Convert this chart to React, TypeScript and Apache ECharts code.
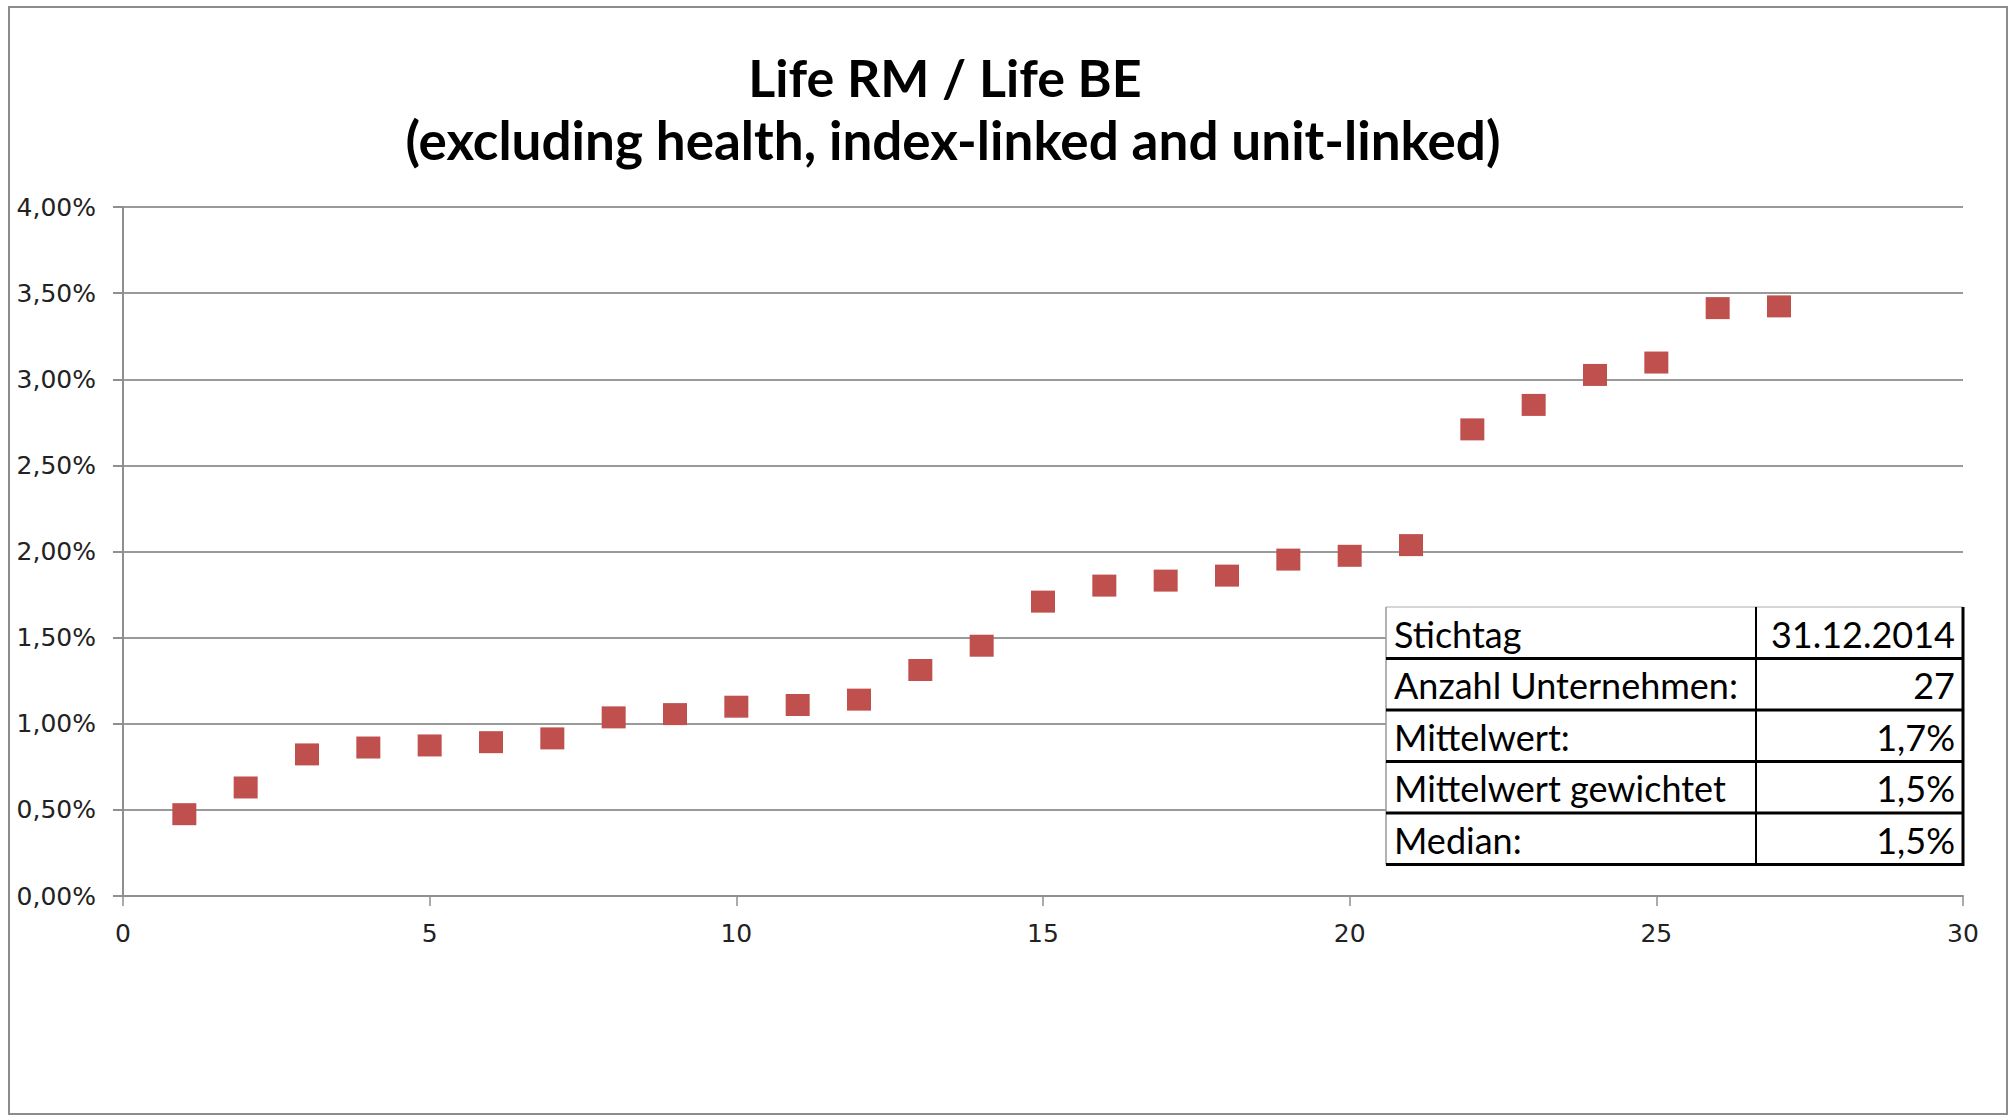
import React, { useEffect, useRef } from "react";
import * as echarts from "echarts";

// Company rank (x) and Life RM / Life BE ratio in percent (y)
const companies = [1, 2, 3, 4, 5, 6, 7, 8, 9, 10, 11, 12, 13, 14, 15, 16, 17, 18, 19, 20, 21, 22, 23, 24, 25, 26, 27];
const ratios = [
  0.475, 0.63, 0.822, 0.862, 0.874, 0.893, 0.915, 1.037, 1.056, 1.099, 1.109, 1.14, 1.312, 1.453,
  1.709, 1.802, 1.831, 1.86, 1.953, 1.975, 2.037, 2.709, 2.851, 3.025, 3.097, 3.413, 3.423,
];
const titleLines = ["Life RM / Life BE", "(excluding health, index-linked and unit-linked)"];
const tableLabels = ["Stichtag", "Anzahl Unternehmen:", "Mittelwert:", "Mittelwert gewichtet", "Median:"];
const tableValues = ["31.12.2014", "27", "1,7%", "1,5%", "1,5%"];
const xTicks = { min: 0, max: 30, interval: 5 };
const yTicks = { min: 0, max: 4, interval: 0.5 };

const W = 2009;
const H = 1116;

function buildTable() {
  const x0 = 1386;
  const y0 = 607;
  const w = 577;
  const rowH = 51.5;
  const colX = 1756;
  const n = tableLabels.length;
  const els: any[] = [];
  els.push({ type: "rect", shape: { x: x0, y: y0, width: w, height: rowH * n }, style: { fill: "#ffffff" }, z: 100 });
  els.push({ type: "line", shape: { x1: x0, y1: y0, x2: x0 + w, y2: y0 }, style: { stroke: "#c8c8c8", lineWidth: 1.5 }, z: 101 });
  els.push({ type: "line", shape: { x1: x0, y1: y0, x2: x0, y2: y0 + rowH * n }, style: { stroke: "#9a9a9a", lineWidth: 1.5 }, z: 101 });
  els.push({ type: "line", shape: { x1: x0 + w, y1: y0, x2: x0 + w, y2: y0 + rowH * n + 1.5 }, style: { stroke: "#000000", lineWidth: 3 }, z: 102 });
  els.push({ type: "line", shape: { x1: colX, y1: y0, x2: colX, y2: y0 + rowH * n }, style: { stroke: "#000000", lineWidth: 2 }, z: 102 });
  for (let i = 1; i <= n; i++) {
    els.push({
      type: "line",
      shape: { x1: x0, y1: y0 + rowH * i, x2: x0 + w, y2: y0 + rowH * i },
      style: { stroke: "#000000", lineWidth: 3 },
      z: 102,
    });
  }
  tableLabels.forEach((t, i) => {
    els.push({
      type: "text",
      x: x0 + 8,
      y: y0 + rowH * i + rowH / 2 + 1,
      style: { text: t, fill: "#000000", font: "36px Lato", align: "left", verticalAlign: "middle" },
      z: 103,
    });
    els.push({
      type: "text",
      x: x0 + w - 8,
      y: y0 + rowH * i + rowH / 2 + 1,
      style: { text: tableValues[i], fill: "#000000", font: "36px Lato", align: "right", verticalAlign: "middle" },
      z: 103,
    });
  });
  return els;
}

export default function App() {
  const ref = useRef<HTMLDivElement>(null);
  useEffect(() => {
    if (!ref.current) return;
    const chart = echarts.init(ref.current, null, { renderer: "svg", width: W, height: H });
    const fmt = (v: number) => v.toFixed(2).replace(".", ",") + "%";
    chart.setOption({
      animation: false,
      backgroundColor: "#ffffff",
      grid: { left: 123, right: W - 1963, top: 207, bottom: H - 896, containLabel: false, outerBoundsMode: "none" },
      xAxis: {
        type: "value",
        min: xTicks.min,
        max: xTicks.max,
        interval: xTicks.interval,
        axisLine: { show: true, onZero: false, lineStyle: { color: "#8f8f8f", width: 2 } },
        axisTick: { show: true, length: 10, lineStyle: { color: "#8f8f8f", width: 1.5 } },
        axisLabel: { color: "#222222", fontFamily: "DejaVu Sans", fontSize: 25, margin: 25 },
        splitLine: { show: false },
      },
      yAxis: {
        type: "value",
        min: yTicks.min,
        max: yTicks.max,
        interval: yTicks.interval,
        axisLine: { show: true, lineStyle: { color: "#8f8f8f", width: 2 } },
        axisTick: { show: true, length: 10, lineStyle: { color: "#8f8f8f", width: 2 } },
        axisLabel: { color: "#222222", fontFamily: "DejaVu Sans", fontSize: 25, margin: 27, formatter: fmt },
        splitLine: { show: true, lineStyle: { color: "#9a9a9a", width: 2 } },
      },
      series: [
        {
          type: "scatter",
          data: companies.map((c, i) => [c, ratios[i]]),
          symbol: "rect",
          symbolSize: [24, 22],
          itemStyle: { color: "#c0504d", opacity: 1 },
          z: 5,
        },
      ],
      graphic: [
        {
          type: "rect",
          shape: { x: 9, y: 7, width: 1998, height: 1107 },
          style: { fill: "none", stroke: "#8c8c8c", lineWidth: 2 },
          z: 0,
          silent: true,
        },
        {
          type: "text",
          x: 945,
          y: 77,
          style: { text: titleLines[0], fill: "#000000", font: "bold 52px Lato", align: "center", verticalAlign: "middle" },
          z: 50,
        },
        {
          type: "text",
          x: 953,
          y: 139,
          style: { text: titleLines[1], fill: "#000000", font: "bold 53px Lato", align: "center", verticalAlign: "middle" },
          z: 50,
        },
        ...buildTable(),
      ],
    });
    return () => chart.dispose();
  }, []);
  return (
    <div
      ref={ref}
      style={{ position: "fixed", left: 0, top: 0, width: W, height: H, background: "#ffffff" }}
    />
  );
}
